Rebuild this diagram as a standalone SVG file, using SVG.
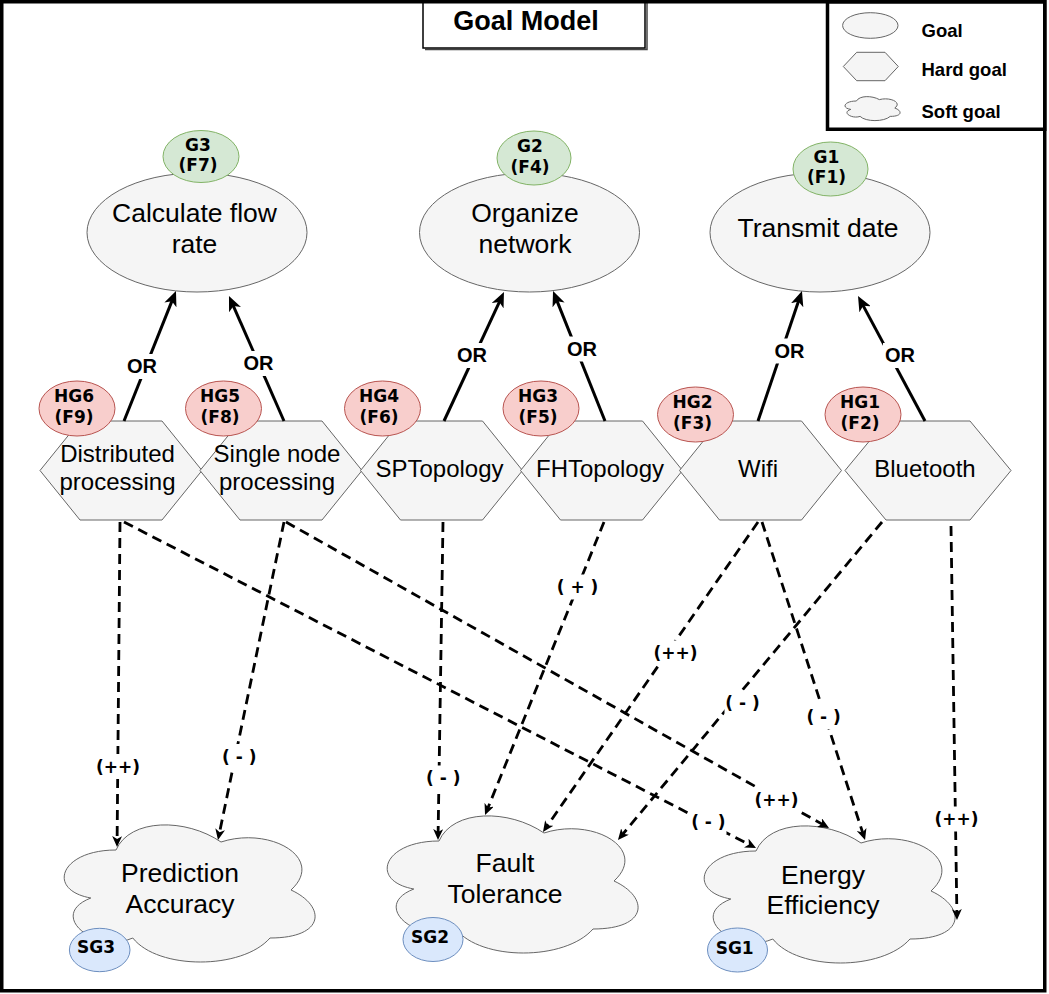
<svg xmlns="http://www.w3.org/2000/svg" width="1049" height="994" viewBox="0 0 1049 994">
<style>
.shape{fill:#f5f5f5;stroke:#666666;stroke-width:1}
.gl{fill:#d5e8d4;stroke:#82b366;stroke-width:1}
.hl{fill:#f8cecc;stroke:#b85450;stroke-width:1}
.sl{fill:#dae8fc;stroke:#6c8ebf;stroke-width:1}
.t{font-family:"Liberation Sans",Arial,Helvetica,sans-serif;fill:#000;text-anchor:middle}
.big{font-size:26.5px}
.hx{font-size:24px}
.b{font-weight:bold}
.lb{font-family:"DejaVu Sans",Verdana,sans-serif;font-weight:bold;font-size:17px;fill:#000;text-anchor:middle}
.el{font-family:"DejaVu Sans",Verdana,sans-serif;font-weight:bold;font-size:17px;fill:#000;text-anchor:middle}
.or{font-family:"Liberation Sans",Arial,Helvetica,sans-serif;font-weight:bold;font-size:20px;fill:#000;text-anchor:middle}
.solid{stroke:#000;stroke-width:3;fill:none}
.dash{stroke:#000;stroke-width:2.8;fill:none;stroke-dasharray:10 6}
.bg{fill:#ffffff;stroke:none}
.frame{fill:none;stroke:#000;stroke-width:3.5}
</style>
<defs>
<marker id="arS" viewBox="0 0 15 13" refX="7" refY="6.5" markerWidth="15" markerHeight="13" markerUnits="userSpaceOnUse" orient="auto"><path d="M0,0 L15,6.5 L0,13 L4,6.5 Z" fill="#000"/></marker>
<marker id="arD" viewBox="0 0 11 10" refX="5" refY="5" markerWidth="11" markerHeight="10" markerUnits="userSpaceOnUse" orient="auto"><path d="M0,0 L11,5 L0,10 L3,5 Z" fill="#000"/></marker>
<path id="cloud" d="M70,40 C14,40 0,80 44.8,88 C0,105.6 50.4,144 86.8,128 C112,160 196,160 224,128 C280,128 280,96 245,80 C280,48 224,16 175,32 C140,8 84,8 70,40 Z"/>
</defs>

<rect x="0" y="0" width="1049" height="994" fill="#ffffff"/>

<g id="title">
<path d="M425,49.5 L647,49.5 L647,2" fill="none" stroke="#444" stroke-width="1.5"/>
<rect x="423" y="1" width="222" height="47" fill="#ffffff" stroke="#000" stroke-width="1.5"/>
<text class="t b" x="526" y="30" font-size="27">Goal Model</text>
</g>

<g id="legend">
<rect x="827.5" y="1.75" width="217.25" height="127.5" fill="#ffffff" stroke="#000" stroke-width="3.5"/>
<ellipse class="shape" cx="870.3" cy="25.5" rx="27.7" ry="12.8"/>
<polygon class="shape" points="843.3,66.5 856.7,52.3 885,52.3 898.3,66.5 885,80.7 856.7,80.7"/>
<path class="shape" transform="translate(841,94)" d="M15.4,7 C3.1,7 0,14 9.8,15.4 C0,18.5 11.1,25.2 19.1,22.4 C24.6,28 43.1,28 49.2,22.4 C61.5,22.4 61.5,16.8 53.8,14 C61.5,8.4 49.2,2.8 38.4,5.6 C30.8,1.4 18.5,1.4 15.4,7 Z"/>
<text class="t b" x="921.5" y="36.5" font-size="18.5" style="text-anchor:start">Goal</text>
<text class="t b" x="921.5" y="76" font-size="18.5" style="text-anchor:start">Hard goal</text>
<text class="t b" x="921.5" y="118.3" font-size="18.5" style="text-anchor:start">Soft goal</text>
</g>

<g id="G3">
<ellipse class="shape" cx="197" cy="232.5" rx="110" ry="59.5"/>
<text class="t big" x="194.5" y="222">Calculate flow</text>
<text class="t big" x="194.5" y="253">rate</text>
<ellipse class="gl" cx="201" cy="156.5" rx="38" ry="26"/>
<text class="lb" x="198" y="150.5">G3</text>
<text class="lb" x="198" y="171">(F7)</text>
</g>

<g id="G2">
<ellipse class="shape" cx="529.5" cy="232.5" rx="110" ry="59.5"/>
<text class="t big" x="525" y="222">Organize</text>
<text class="t big" x="525" y="253">network</text>
<ellipse class="gl" cx="534" cy="158" rx="37" ry="27"/>
<text class="lb" x="530" y="152">G2</text>
<text class="lb" x="530" y="172.5">(F4)</text>
</g>

<g id="G1">
<ellipse class="shape" cx="820" cy="232.5" rx="110" ry="59.5"/>
<text class="t big" x="818" y="237">Transmit date</text>
<ellipse class="gl" cx="830.5" cy="169" rx="37.5" ry="27"/>
<text class="lb" x="826.5" y="162.5">G1</text>
<text class="lb" x="826.5" y="183">(F1)</text>
</g>

<g id="HG6">
<polygon class="shape" points="40,470.5 80,421 162,421 202,470.5 162,520 80,520"/>
<text class="t hx" x="117.5" y="461.5">Distributed</text>
<text class="t hx" x="117.5" y="489.5">processing</text>
<ellipse class="hl" cx="77" cy="408.5" rx="38" ry="27.5"/>
<text class="lb" x="74" y="402">HG6</text>
<text class="lb" x="74" y="422.5">(F9)</text>
</g>

<g id="HG5">
<polygon class="shape" points="200,470.5 240,421 322,421 362,470.5 322,520 240,520"/>
<text class="t hx" x="277" y="461.5">Single node</text>
<text class="t hx" x="277" y="489.5">processing</text>
<ellipse class="hl" cx="223.5" cy="408.5" rx="38" ry="27.5"/>
<text class="lb" x="220" y="402">HG5</text>
<text class="lb" x="220" y="422.5">(F8)</text>
</g>

<g id="HG4">
<polygon class="shape" points="360.5,470.5 400.5,421 482.5,421 522.5,470.5 482.5,520 400.5,520"/>
<text class="t hx" x="439.5" y="476.5">SPTopology</text>
<ellipse class="hl" cx="382.5" cy="408.5" rx="38" ry="27.5"/>
<text class="lb" x="379" y="402">HG4</text>
<text class="lb" x="379" y="422.5">(F6)</text>
</g>

<g id="HG3">
<polygon class="shape" points="520.5,470.5 560.5,421 642.5,421 682.5,470.5 642.5,520 560.5,520"/>
<text class="t hx" x="600" y="476.5">FHTopology</text>
<ellipse class="hl" cx="541" cy="408.5" rx="38" ry="27.5"/>
<text class="lb" x="538" y="402">HG3</text>
<text class="lb" x="538" y="422.5">(F5)</text>
</g>

<g id="HG2">
<polygon class="shape" points="679.5,470.5 719.5,421 801.5,421 841.5,470.5 801.5,520 719.5,520"/>
<text class="t hx" x="758" y="476.5">Wifi</text>
<ellipse class="hl" cx="695.5" cy="414.5" rx="38" ry="27.5"/>
<text class="lb" x="692.5" y="408">HG2</text>
<text class="lb" x="692.5" y="428.5">(F3)</text>
</g>

<g id="HG1">
<polygon class="shape" points="845,470.5 886,421 970,421 1011,470.5 970,520 886,520"/>
<text class="t hx" x="925" y="476.5">Bluetooth</text>
<ellipse class="hl" cx="863" cy="414.5" rx="38" ry="27.5"/>
<text class="lb" x="860" y="408">HG1</text>
<text class="lb" x="860" y="428.5">(F2)</text>
</g>

<g id="SG3">
<use href="#cloud" x="46" y="810" class="shape"/>
<text class="t big" x="180" y="882">Prediction</text>
<text class="t big" x="180" y="913">Accuracy</text>
<ellipse class="sl" cx="99.7" cy="950" rx="30.3" ry="21.7"/>
<text class="lb" x="96" y="953">SG3</text>
</g>

<g id="SG2">
<use href="#cloud" x="369" y="801" class="shape"/>
<text class="t big" x="505" y="872">Fault</text>
<text class="t big" x="505" y="903">Tolerance</text>
<ellipse class="sl" cx="433" cy="939.5" rx="30" ry="22"/>
<text class="lb" x="430" y="942.5">SG2</text>
</g>

<g id="SG1">
<use href="#cloud" x="686" y="811" class="shape"/>
<text class="t big" x="823" y="884">Energy</text>
<text class="t big" x="823" y="914">Efficiency</text>
<ellipse class="sl" cx="737.5" cy="950" rx="30" ry="22"/>
<text class="lb" x="734.7" y="953.5">SG1</text>
</g>

<g id="connectors">
<line class="solid" x1="124" y1="421" x2="173" y2="298.4" marker-end="url(#arS)"/>
<line class="solid" x1="284" y1="421" x2="232.2" y2="303.3" marker-end="url(#arS)"/>
<line class="solid" x1="444" y1="421" x2="500.6" y2="299.3" marker-end="url(#arS)"/>
<line class="solid" x1="605" y1="421" x2="556" y2="298.4" marker-end="url(#arS)"/>
<line class="solid" x1="758" y1="421" x2="799.4" y2="298.6" marker-end="url(#arS)"/>
<line class="solid" x1="925" y1="421" x2="861.8" y2="303.1" marker-end="url(#arS)"/>

<line class="dash" x1="120" y1="522" x2="117.1" y2="841" marker-end="url(#arD)"/>
<line class="dash" x1="284" y1="522" x2="219.2" y2="834.1" marker-end="url(#arD)"/>
<line class="dash" x1="124" y1="522" x2="750.7" y2="845.3" marker-end="url(#arD)"/>
<line class="dash" x1="286" y1="522" x2="823.8" y2="825.1" marker-end="url(#arD)"/>
<line class="dash" x1="443" y1="522" x2="438.1" y2="834" marker-end="url(#arD)"/>
<line class="dash" x1="604" y1="522" x2="487.3" y2="809.4" marker-end="url(#arD)"/>
<line class="dash" x1="758" y1="522" x2="546.4" y2="827.1" marker-end="url(#arD)"/>
<line class="dash" x1="762" y1="522" x2="863.2" y2="834.3" marker-end="url(#arD)"/>
<line class="dash" x1="882" y1="522" x2="621.8" y2="835.4" marker-end="url(#arD)"/>
<line class="dash" x1="951" y1="526" x2="956.9" y2="914" marker-end="url(#arD)"/>

<g id="edge-labels">
<rect class="bg" x="125" y="354" width="34" height="25"/>
<text class="or" x="142" y="373.3">OR</text>
<rect class="bg" x="241.5" y="351" width="34" height="25"/>
<text class="or" x="258.5" y="370">OR</text>
<rect class="bg" x="455" y="343" width="34" height="25"/>
<text class="or" x="472" y="362.3">OR</text>
<rect class="bg" x="565" y="336.5" width="34" height="25"/>
<text class="or" x="582" y="355.7">OR</text>
<rect class="bg" x="772.5" y="338.5" width="34" height="25"/>
<text class="or" x="789.5" y="357.7">OR</text>
<rect class="bg" x="883" y="343" width="34" height="25"/>
<text class="or" x="900" y="362.3">OR</text>

<rect class="bg" x="95" y="754" width="46" height="25"/>
<text class="el" x="118" y="772.5">(++)</text>
<rect class="bg" x="221" y="744" width="36" height="25"/>
<text class="el" x="239.3" y="762.5">( - )</text>
<rect class="bg" x="425" y="765.5" width="36" height="25"/>
<text class="el" x="443.3" y="784">( - )</text>
<rect class="bg" x="559.5" y="574.5" width="36" height="25"/>
<text class="el" x="577.5" y="593">( + )</text>
<rect class="bg" x="652.5" y="640.5" width="46" height="25"/>
<text class="el" x="675.6" y="659">(++)</text>
<rect class="bg" x="724.5" y="690.5" width="36" height="25"/>
<text class="el" x="742.5" y="709">( - )</text>
<rect class="bg" x="805.5" y="704" width="36" height="25"/>
<text class="el" x="823.6" y="722.5">( - )</text>
<rect class="bg" x="753.5" y="787.5" width="46" height="25"/>
<text class="el" x="776.4" y="806">(++)</text>
<rect class="bg" x="690.5" y="809" width="36" height="25"/>
<text class="el" x="708.4" y="827.5">( - )</text>
<rect class="bg" x="933.5" y="806.5" width="46" height="25"/>
<text class="el" x="956.4" y="825">(++)</text>
</g>
</g>

<rect id="frame" class="frame" x="1.75" y="1.75" width="1043" height="989"/>
</svg>
